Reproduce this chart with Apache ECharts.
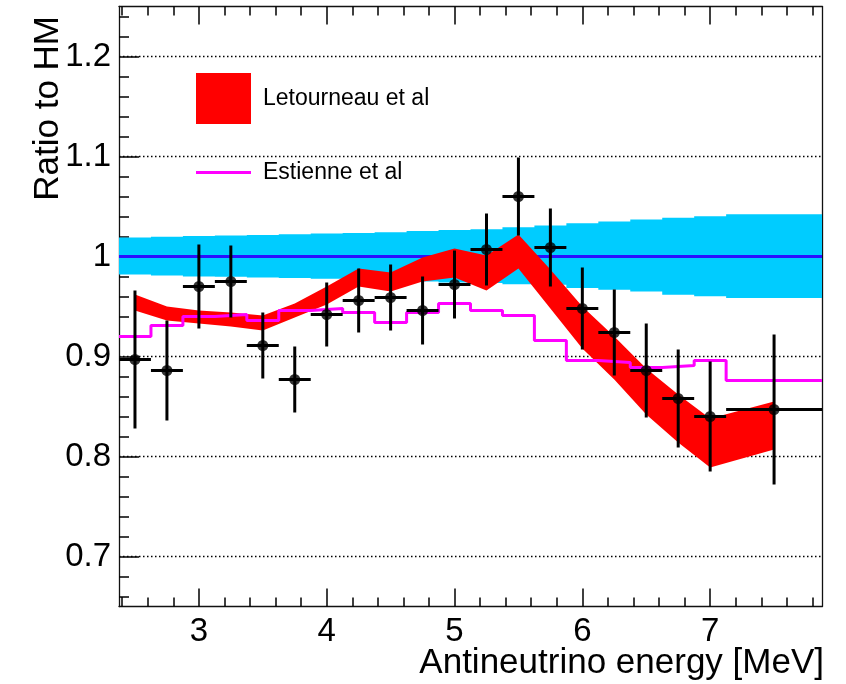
<!DOCTYPE html>
<html>
<head>
<meta charset="utf-8">
<script src="https://cdn.jsdelivr.net/npm/echarts@6/dist/echarts.min.js"></script>
<style>
  html, body { margin: 0; padding: 0; background: #fff; }
  #chart { width: 846px; height: 684px; }
</style>
</head>
<body>
<div id="chart"></div>
<script>
const FONT = "'Liberation Sans', Arial, sans-serif";

// bin centres and half widths (last bin is wider)
const energy = [2.5, 2.75, 3, 3.25, 3.5, 3.75, 4, 4.25, 4.5, 4.75, 5, 5.25, 5.5, 5.75, 6, 6.25, 6.5, 6.75, 7, 7.5];
const binHalfWidth = [0.125, 0.125, 0.125, 0.125, 0.125, 0.125, 0.125, 0.125, 0.125, 0.125,
  0.125, 0.125, 0.125, 0.125, 0.125, 0.125, 0.125, 0.125, 0.125, 0.375];

// measured ratio with errors
const dataRatio = [0.897, 0.886, 0.970, 0.975, 0.911, 0.877, 0.942, 0.956, 0.959, 0.946,
  0.972, 1.007, 1.060, 1.009, 0.948, 0.924, 0.886, 0.858, 0.840, 0.847];
const dataError = [0.069, 0.050, 0.042, 0.036, 0.033, 0.033, 0.032, 0.032, 0.033, 0.034,
  0.034, 0.036, 0.039, 0.039, 0.041, 0.043, 0.047, 0.049, 0.055, 0.075];

// HM uncertainty band around 1
const hmRatio = 1.0;
const hmUp = [0.019, 0.0197, 0.0206, 0.021, 0.0216, 0.0222, 0.0229, 0.0236, 0.0242, 0.0256,
  0.0266, 0.0272, 0.0292, 0.0309, 0.0332, 0.0349, 0.0369, 0.0388, 0.0402, 0.0422];
const hmDown = [0.018, 0.019, 0.0199, 0.0203, 0.021, 0.0216, 0.0222, 0.023, 0.0236, 0.025,
  0.026, 0.0265, 0.0278, 0.0282, 0.0316, 0.0332, 0.0349, 0.0382, 0.0398, 0.0415];

// Letourneau et al band edges
const letourneauUp = [0.962, 0.950, 0.946, 0.944, 0.941, 0.953, 0.970, 0.988, 0.984, 0.999,
  1.008, 1.001, 1.022, 0.987, 0.950, 0.920, 0.888, 0.862, 0.838, 0.855];
const letourneauDown = [0.946, 0.936, 0.933, 0.930, 0.926, 0.939, 0.952, 0.970, 0.965, 0.975,
  0.979, 0.966, 0.988, 0.948, 0.908, 0.877, 0.842, 0.814, 0.789, 0.807];

// Estienne et al histogram
const estienne = [0.920, 0.931, 0.940, 0.942, 0.936, 0.946, 0.948, 0.944, 0.934, 0.944,
  0.953, 0.946, 0.941, 0.916, 0.896, 0.894, 0.889, 0.891, 0.896, 0.876];

const xMajorTicks = [3, 4, 5, 6, 7];
const xMinorTicks = [2.4, 2.6, 2.8, 3.2, 3.4, 3.6, 3.8, 4.2, 4.4, 4.6, 4.8, 5.2, 5.4, 5.6, 5.8,
  6.2, 6.4, 6.6, 6.8, 7.2, 7.4, 7.6, 7.8];
const yMajorTicks = [0.7, 0.8, 0.9, 1, 1.1, 1.2];
const yMinorTicks = [0.66, 0.68, 0.72, 0.74, 0.76, 0.78, 0.82, 0.84, 0.86, 0.88, 0.92, 0.94,
  0.96, 0.98, 1.02, 1.04, 1.06, 1.08, 1.12, 1.14, 1.16, 1.18, 1.22, 1.24];

const X_MIN = 2.375, X_MAX = 7.875, Y_MIN = 0.65, Y_MAX = 1.25;

function xAxisDef(position, ticks, len, showLine, showLabel) {
  return {
    type: "value", position: position, min: X_MIN, max: X_MAX,
    axisLine: { show: showLine, onZero: false, lineStyle: { color: "#111", width: 1.3 } },
    axisTick: { show: true, inside: true, length: len, customValues: ticks,
      lineStyle: { color: "#000", width: 1.5 } },
    axisLabel: showLabel
      ? { show: true, customValues: ticks, margin: 9, color: "#000", fontSize: 33, fontFamily: FONT }
      : { show: false },
    splitLine: { show: false },
  };
}

function yAxisDef(position, ticks, len, showLine, showLabel, showGrid) {
  return {
    type: "value", position: position, min: Y_MIN, max: Y_MAX,
    axisLine: { show: showLine, onZero: false, lineStyle: { color: "#111", width: 1.3 } },
    axisTick: { show: ticks.length > 0, inside: true, length: len, customValues: ticks,
      lineStyle: { color: "#000", width: 1.5 } },
    axisLabel: showLabel
      ? { show: true, customValues: ticks, margin: 8, color: "#000", fontSize: 33, fontFamily: FONT }
      : { show: false },
    splitLine: { show: showGrid, lineStyle: { color: "#000", width: 1.4, type: [1.5, 2.5] } },
  };
}

const chartElement = document.getElementById("chart");
const chartInstance = echarts.init(chartElement);

const hmBand = {
  name: "HM", type: "custom", z: 1, silent: true,
  data: [[energy[0], hmRatio]],
  renderItem: (params, api) => {
    const pts = [];
    energy.forEach((x, i) => {
      pts.push(api.coord([x - binHalfWidth[i], hmRatio + hmUp[i]]));
      pts.push(api.coord([x + binHalfWidth[i], hmRatio + hmUp[i]]));
    });
    for (let i = energy.length - 1; i >= 0; i--) {
      pts.push(api.coord([energy[i] + binHalfWidth[i], hmRatio - hmDown[i]]));
      pts.push(api.coord([energy[i] - binHalfWidth[i], hmRatio - hmDown[i]]));
    }
    return { type: "polygon", shape: { points: pts }, style: { fill: "#00ccff" } };
  },
};

const letourneauBand = {
  name: "Letourneau et al", type: "custom", z: 3, silent: true,
  itemStyle: { color: "#ff0000" },
  data: [[energy[0], letourneauUp[0]]],
  renderItem: (params, api) => {
    const pts = [];
    energy.forEach((x, i) => pts.push(api.coord([x, letourneauUp[i]])));
    for (let i = energy.length - 1; i >= 0; i--) {
      pts.push(api.coord([energy[i], letourneauDown[i]]));
    }
    return { type: "polygon", shape: { points: pts }, style: { fill: "#ff0000" } };
  },
};

const estienneData = energy.map((x, i) => [x - binHalfWidth[i], estienne[i]]);
estienneData.push([X_MAX, estienne[estienne.length - 1]]);

const option = {
  animation: false,
  backgroundColor: "#fff",
  grid: { left: 119, right: 24, top: 6.5, bottom: 77.5, containLabel: false },
  xAxis: [
    xAxisDef("bottom", xMajorTicks, 18, true, true),
    xAxisDef("bottom", xMinorTicks, 9, false, false),
    xAxisDef("top", xMajorTicks, 18, true, false),
    xAxisDef("top", xMinorTicks, 9, false, false),
  ],
  yAxis: [
    yAxisDef("left", yMajorTicks, 20, true, true, true),
    yAxisDef("left", yMinorTicks, 10, false, false, false),
    yAxisDef("right", [], 0, true, false, false),
  ],
  legend: [
    {
      left: 196, top: 73, orient: "vertical", itemWidth: 55, itemHeight: 51,
      selectedMode: false, padding: 0,
      textStyle: { fontSize: 23, fontFamily: FONT, color: "#000", padding: [5, 0, 0, 7] },
      data: [{ name: "Letourneau et al", icon: "rect", itemStyle: { color: "#ff0000" } }],
    },
    {
      left: 196, top: 161, orient: "vertical", itemWidth: 55, itemHeight: 3,
      selectedMode: false, padding: 0,
      textStyle: { fontSize: 23, fontFamily: FONT, color: "#000", padding: [3, 0, 0, 7] },
      data: [{ name: "Estienne et al", icon: "rect", itemStyle: { color: "#ff00ff" } }],
    },
  ],
  graphic: [
    {
      type: "text", right: 22, top: 646, z: 10,
      style: { text: "Antineutrino energy [MeV]", fontSize: 35, fontFamily: FONT, fill: "#000" },
    },
    {
      type: "text", x: 48, y: 16, rotation: Math.PI / 2, z: 10,
      style: { text: "Ratio to HM", fontSize: 35, fontFamily: FONT, fill: "#000",
        align: "right", verticalAlign: "middle" },
    },
  ],
  series: [
    hmBand,
    {
      name: "HM line", type: "line", z: 2, silent: true, symbol: "none",
      data: [[X_MIN, hmRatio], [X_MAX, hmRatio]],
      lineStyle: { color: "#2a10ff", width: 3 },
    },
    letourneauBand,
    {
      name: "Estienne et al", type: "line", z: 4, silent: true, symbol: "none", step: "end",
      data: estienneData,
      itemStyle: { color: "#ff00ff" },
      lineStyle: { color: "#ff00ff", width: 3 },
    },
    {
      name: "Data errors", type: "custom", z: 5, silent: true,
      data: energy.map((x, i) => [x, dataRatio[i], dataError[i], binHalfWidth[i]]),
      encode: { x: 0, y: 1 },
      renderItem: (params, api) => {
        const x = api.value(0), y = api.value(1), e = api.value(2), w = api.value(3);
        const top = api.coord([x, y + e]), bot = api.coord([x, y - e]);
        const l = api.coord([x - w, y]), r = api.coord([x + w, y]);
        const style = { stroke: "#000", lineWidth: 3 };
        return {
          type: "group",
          children: [
            { type: "line", shape: { x1: top[0], y1: top[1], x2: bot[0], y2: bot[1] }, style: style },
            { type: "line", shape: { x1: l[0], y1: l[1], x2: r[0], y2: r[1] }, style: style },
          ],
        };
      },
    },
    {
      name: "Data", type: "scatter", z: 6, silent: true, symbolSize: 11,
      data: energy.map((x, i) => [x, dataRatio[i]]),
      itemStyle: { color: "#000" },
    },
  ],
};

chartInstance.setOption(option);
</script>
</body>
</html>
